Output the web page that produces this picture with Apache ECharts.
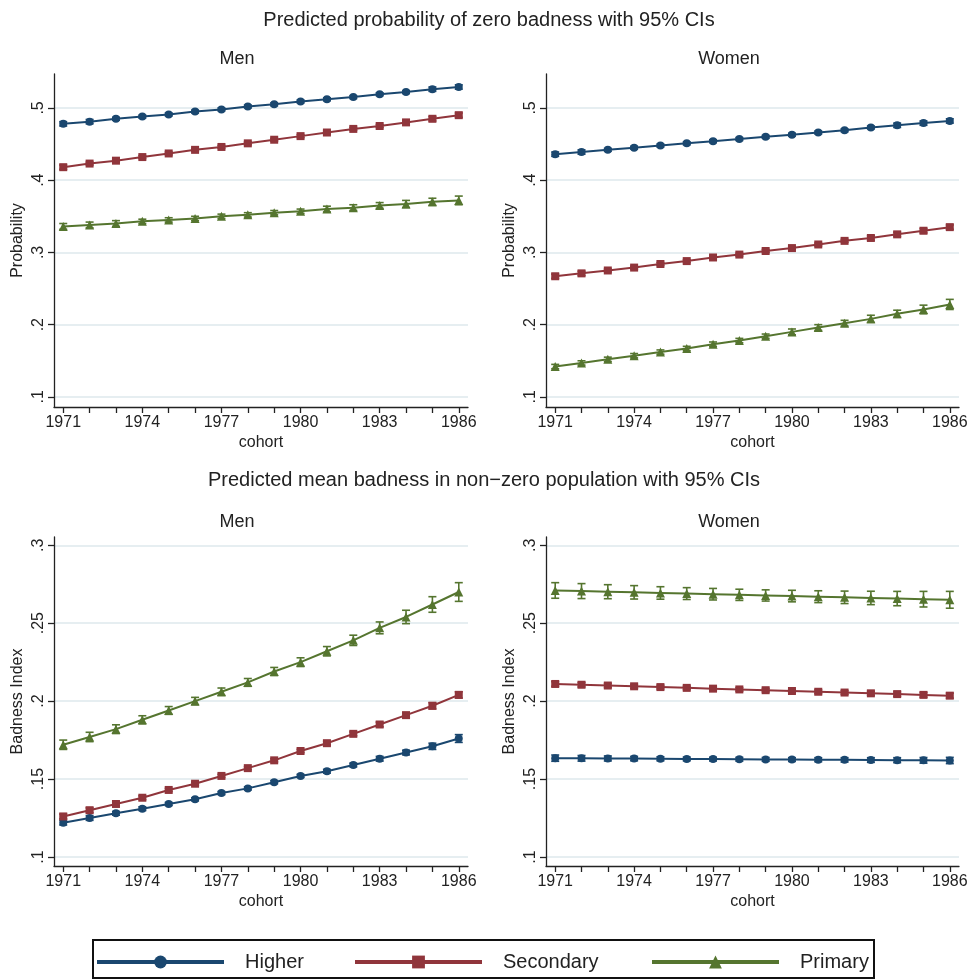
<!DOCTYPE html>
<html>
<head>
<meta charset="utf-8">
<title>Predicted badness by cohort</title>
<script src="https://cdn.jsdelivr.net/npm/echarts@6/dist/echarts.min.js"></script>
<style>
  html, body { margin: 0; padding: 0; background: #fff; }
  #chart { width: 972px; height: 980px; }
</style>
</head>
<body>
<div id="chart"></div>
<script>
// Birth cohorts on the x axis
const years = [1971, 1972, 1973, 1974, 1975, 1976, 1977, 1978, 1979, 1980, 1981, 1982, 1983, 1984, 1985, 1986];
const xTickLabels = [1971, 1974, 1977, 1980, 1983, 1986];
const yTicksProb = [0.1, 0.2, 0.3, 0.4, 0.5];
const yTicksBad = [0.1, 0.15, 0.2, 0.25, 0.3];

const groups = ['Higher', 'Secondary', 'Primary'];

// Predicted probability of zero badness
const menProbHigher     = [0.478, 0.481, 0.485, 0.488, 0.491, 0.495, 0.498, 0.502, 0.505, 0.509, 0.512, 0.515, 0.519, 0.522, 0.526, 0.529];
const menProbSecondary  = [0.418, 0.423, 0.427, 0.432, 0.437, 0.442, 0.446, 0.451, 0.456, 0.461, 0.466, 0.471, 0.475, 0.480, 0.485, 0.490];
const menProbPrimary    = [0.336, 0.338, 0.340, 0.343, 0.345, 0.347, 0.350, 0.352, 0.355, 0.357, 0.360, 0.362, 0.365, 0.367, 0.370, 0.372];
const womenProbHigher   = [0.436, 0.439, 0.442, 0.445, 0.448, 0.451, 0.454, 0.457, 0.460, 0.463, 0.466, 0.469, 0.473, 0.476, 0.479, 0.482];
const womenProbSecondary= [0.267, 0.271, 0.275, 0.279, 0.284, 0.288, 0.293, 0.297, 0.302, 0.306, 0.311, 0.316, 0.320, 0.325, 0.330, 0.335];
const womenProbPrimary  = [0.142, 0.147, 0.152, 0.157, 0.162, 0.167, 0.173, 0.178, 0.184, 0.190, 0.196, 0.202, 0.208, 0.215, 0.221, 0.228];

// 95% CI half-widths for the probabilities
const menProbHigherCI     = [0.003, 0.003, 0.002, 0.002, 0.002, 0.002, 0.002, 0.002, 0.002, 0.002, 0.002, 0.002, 0.002, 0.002, 0.003, 0.003];
const menProbSecondaryCI  = [0.003, 0.002, 0.002, 0.002, 0.002, 0.002, 0.002, 0.002, 0.002, 0.002, 0.002, 0.002, 0.002, 0.002, 0.003, 0.003];
const menProbPrimaryCI    = [0.004, 0.004, 0.004, 0.003, 0.003, 0.003, 0.003, 0.003, 0.003, 0.003, 0.004, 0.004, 0.004, 0.005, 0.005, 0.006];
const womenProbHigherCI   = [0.003, 0.003, 0.002, 0.002, 0.002, 0.002, 0.002, 0.002, 0.002, 0.002, 0.002, 0.002, 0.002, 0.003, 0.003, 0.003];
const womenProbSecondaryCI= [0.003, 0.003, 0.002, 0.002, 0.002, 0.002, 0.002, 0.002, 0.002, 0.002, 0.002, 0.002, 0.003, 0.003, 0.003, 0.003];
const womenProbPrimaryCI  = [0.003, 0.003, 0.003, 0.003, 0.003, 0.003, 0.003, 0.003, 0.003, 0.004, 0.004, 0.004, 0.005, 0.005, 0.006, 0.007];

// Predicted mean badness in the non-zero population
const menBadHigher      = [0.122, 0.125, 0.128, 0.131, 0.134, 0.137, 0.141, 0.144, 0.148, 0.152, 0.155, 0.159, 0.163, 0.167, 0.171, 0.176];
const menBadSecondary   = [0.126, 0.130, 0.134, 0.138, 0.143, 0.147, 0.152, 0.157, 0.162, 0.168, 0.173, 0.179, 0.185, 0.191, 0.197, 0.204];
const menBadPrimary     = [0.172, 0.177, 0.182, 0.188, 0.194, 0.200, 0.206, 0.212, 0.219, 0.225, 0.232, 0.239, 0.247, 0.254, 0.262, 0.270];
const womenBadHigher    = [0.1634, 0.1633, 0.1632, 0.1631, 0.1630, 0.1629, 0.1628, 0.1627, 0.1626, 0.1625, 0.1624, 0.1623, 0.1622, 0.1621, 0.1620, 0.1619];
const womenBadSecondary = [0.2110, 0.2105, 0.2100, 0.2095, 0.2090, 0.2085, 0.2080, 0.2075, 0.2070, 0.2065, 0.2060, 0.2055, 0.2050, 0.2045, 0.2040, 0.2035];
const womenBadPrimary   = [0.2710, 0.2706, 0.2702, 0.2698, 0.2694, 0.2690, 0.2686, 0.2682, 0.2678, 0.2674, 0.2670, 0.2666, 0.2662, 0.2658, 0.2654, 0.2650];

// 95% CI half-widths for the mean badness
const menBadHigherCI      = [0.0015, 0.0015, 0.0012, 0.0012, 0.001, 0.001, 0.001, 0.001, 0.001, 0.001, 0.0012, 0.0012, 0.0015, 0.0015, 0.002, 0.0025];
const menBadSecondaryCI   = [0.0015, 0.0015, 0.0012, 0.0012, 0.001, 0.001, 0.001, 0.001, 0.001, 0.001, 0.0012, 0.0012, 0.0015, 0.0015, 0.002, 0.002];
const menBadPrimaryCI     = [0.003, 0.003, 0.0028, 0.0026, 0.0025, 0.0024, 0.0024, 0.0025, 0.0026, 0.0028, 0.003, 0.0033, 0.0038, 0.0043, 0.005, 0.006];
const womenBadHigherCI    = [0.002, 0.0018, 0.0016, 0.0014, 0.0013, 0.0012, 0.0012, 0.0012, 0.0012, 0.0012, 0.0013, 0.0014, 0.0015, 0.0016, 0.0018, 0.002];
const womenBadSecondaryCI = [0.0015, 0.0014, 0.0013, 0.0012, 0.0012, 0.0011, 0.0011, 0.0011, 0.0011, 0.0011, 0.0012, 0.0012, 0.0013, 0.0014, 0.0015, 0.0016];
const womenBadPrimaryCI   = [0.005, 0.0048, 0.0045, 0.0043, 0.004, 0.0038, 0.0037, 0.0036, 0.0036, 0.0037, 0.0038, 0.004, 0.0043, 0.0046, 0.005, 0.0054];

// Style
const FONT = '"Liberation Sans", Arial, Helvetica, sans-serif';
const INK = '#222';
const colors = { Higher: '#1a476f', Secondary: '#90353b', Primary: '#55752f' };
const symbols = { Higher: 'circle', Secondary: 'rect', Primary: 'triangle' };
const symbolSizes = { Higher: 8, Secondary: 8, Primary: 9 };
const GRID_COLOR = '#e6eef1';

// Panel layout: plot rectangles and value ranges
const panels = [
  { grid: { left: 54, top: 74, width: 414, height: 333 }, yMin: 0.086, yMax: 0.547, yTicks: yTicksProb, yName: 'Probability',
    values: [menProbHigher, menProbSecondary, menProbPrimary], ci: [menProbHigherCI, menProbSecondaryCI, menProbPrimaryCI] },
  { grid: { left: 546, top: 74, width: 413, height: 333 }, yMin: 0.086, yMax: 0.547, yTicks: yTicksProb, yName: 'Probability',
    values: [womenProbHigher, womenProbSecondary, womenProbPrimary], ci: [womenProbHigherCI, womenProbSecondaryCI, womenProbPrimaryCI] },
  { grid: { left: 54, top: 537, width: 414, height: 329 }, yMin: 0.0942, yMax: 0.3053, yTicks: yTicksBad, yName: 'Badness Index',
    values: [menBadHigher, menBadSecondary, menBadPrimary], ci: [menBadHigherCI, menBadSecondaryCI, menBadPrimaryCI] },
  { grid: { left: 546, top: 537, width: 413, height: 329 }, yMin: 0.0942, yMax: 0.3053, yTicks: yTicksBad, yName: 'Badness Index',
    values: [womenBadHigher, womenBadSecondary, womenBadPrimary], ci: [womenBadHigherCI, womenBadSecondaryCI, womenBadPrimaryCI] }
];

const fmtY = v => String(+v.toFixed(3)).replace(/^0\./, '.');

const grid = [], xAxis = [], yAxis = [], series = [];

panels.forEach((p, i) => {
  grid.push(Object.assign({ containLabel: false }, p.grid));
  xAxis.push({
    type: 'value', gridIndex: i, min: 1970.65, max: 1986.35,
    name: 'cohort', nameLocation: 'middle', nameGap: 28,
    nameTextStyle: { fontFamily: FONT, fontSize: 16, color: INK },
    axisLine: { show: true, lineStyle: { color: INK, width: 1.3 } },
    axisTick: { show: true, length: 6, customValues: years, lineStyle: { color: INK, width: 1.3 } },
    axisLabel: { customValues: xTickLabels, fontFamily: FONT, fontSize: 16, color: INK, margin: 8, formatter: v => String(v) },
    splitLine: { show: false }
  });
  yAxis.push({
    type: 'value', gridIndex: i, min: p.yMin, max: p.yMax,
    name: p.yName, nameLocation: 'middle', nameGap: 28, nameRotate: 90,
    nameTextStyle: { fontFamily: FONT, fontSize: 16, color: INK },
    axisLine: { show: true, lineStyle: { color: INK, width: 1.3 } },
    axisTick: { show: true, length: 6, customValues: p.yTicks, lineStyle: { color: INK, width: 1.3 } },
    axisLabel: { customValues: p.yTicks, rotate: 90, fontFamily: FONT, fontSize: 16, color: INK, margin: 7, formatter: fmtY },
    splitLine: { show: true, lineStyle: { color: GRID_COLOR, width: 2 } }
  });

  groups.forEach((g, k) => {
    const vals = p.values[k];
    const ci = p.ci[k];
    // confidence interval bars with caps
    series.push({
      type: 'custom', name: g + ' CI', xAxisIndex: i, yAxisIndex: i, z: 2,
      silent: true,
      data: years.map((y, j) => [y, vals[j] - ci[j], vals[j] + ci[j]]),
      encode: { x: 0, y: [1, 2] },
      renderItem: (params, api) => {
        const x = api.value(0);
        const lo = api.coord([x, api.value(1)]);
        const hi = api.coord([x, api.value(2)]);
        const w = 4;
        const style = { stroke: colors[g], lineWidth: 1.6, fill: null };
        return {
          type: 'group',
          children: [
            { type: 'line', shape: { x1: lo[0], y1: lo[1], x2: hi[0], y2: hi[1] }, style },
            { type: 'line', shape: { x1: lo[0] - w, y1: lo[1], x2: lo[0] + w, y2: lo[1] }, style },
            { type: 'line', shape: { x1: hi[0] - w, y1: hi[1], x2: hi[0] + w, y2: hi[1] }, style }
          ]
        };
      }
    });
    // point estimates joined by a line
    series.push({
      type: 'line', name: g, xAxisIndex: i, yAxisIndex: i, z: 3,
      data: years.map((y, j) => [y, vals[j]]),
      symbol: symbols[g], symbolSize: symbolSizes[g], showSymbol: true,
      lineStyle: { color: colors[g], width: 2 },
      itemStyle: { color: colors[g], borderWidth: 0 },
      emphasis: { disabled: true },
      animation: false
    });
  });
});

// Legend: one component per group so each entry sits at its own position
const legendLefts = [95, 353, 650];
const legend = groups.map((g, k) => ({
  data: [g], left: legendLefts[k], top: 952, padding: 0,
  itemWidth: 127, itemHeight: 16,
  lineStyle: { width: 4 },
  selectedMode: false,
  textStyle: { fontFamily: FONT, fontSize: 20, color: INK, padding: [0, 0, 0, 16] }
}));

// Titles and the legend frame
const txt = (text, x, y, size) => ({
  type: 'text', x, y, silent: true,
  style: { text, fontFamily: FONT, fontSize: size, fill: INK, textAlign: 'center', textVerticalAlign: 'middle' }
});

const graphic = [
  txt('Predicted probability of zero badness with 95% CIs', 489, 20, 20),
  txt('Men', 237, 59, 18),
  txt('Women', 729, 59, 18),
  txt('Predicted mean badness in non\u2212zero population with 95% CIs', 484, 480, 20),
  txt('Men', 237, 522, 18),
  txt('Women', 729, 522, 18),
  { type: 'rect', silent: true, shape: { x: 93, y: 940, width: 781, height: 38 },
    style: { fill: null, stroke: '#111', lineWidth: 2 } }
];

const chart = echarts.init(document.getElementById('chart'), null, { renderer: 'canvas' });
chart.setOption({
  backgroundColor: '#ffffff',
  animation: false,
  grid, xAxis, yAxis, series, legend, graphic
});
</script>
</body>
</html>
